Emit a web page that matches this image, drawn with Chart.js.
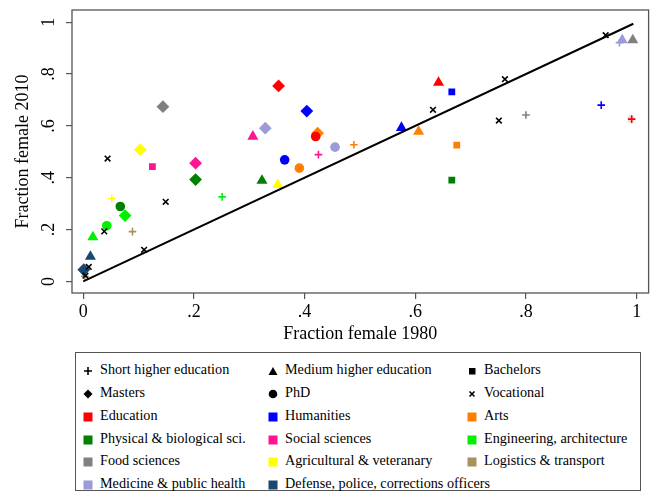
<!DOCTYPE html>
<html><head><meta charset="utf-8">
<script src="https://cdn.jsdelivr.net/npm/chart.js@4.4.1/dist/chart.umd.min.js"></script>
<style>
html,body{margin:0;padding:0;background:#fff;}
#wrap{position:relative;width:655px;height:491px;overflow:hidden;background:#fff;}
#c{position:absolute;left:0;top:0;}
#lgbox{position:absolute;left:75px;top:352px;width:566px;height:139px;border:1px solid #555;box-sizing:border-box;}
.lt{position:absolute;height:16px;line-height:16px;white-space:nowrap;font-family:'Liberation Serif','Times New Roman',serif;font-size:14.2px;color:#000;}
.ls{position:absolute;}
</style></head><body>
<div id="wrap"><canvas id="c" width="655" height="350"></canvas><div id="lgbox"></div></div>
<script>
// ---------- data ----------
const fieldNames  = ['Education','Humanities','Arts','Physical & biological sci.','Social sciences','Engineering, architecture','Food sciences','Agricultural & veteranary','Logistics & transport','Medicine & public health','Defense, police, corrections officers'];
const fieldColors = ['#ff0000','#0000ff','#ff8000','#008000','#ff1493','#00f000','#808080','#ffff00','#a8925a','#9c9ad8','#1a476f'];
const degreeNames = ['Short higher education','Medium higher education','Bachelors','Masters','PhD','Vocational'];
const degreeKeys  = ['Short','Medium','Bachelors','Masters','PhD','Vocational'];

const eduDeg  = ['Masters','PhD','Medium','Short'];
const edu1980 = [0.353,0.420,0.642,0.991];
const edu2010 = [0.754,0.559,0.767,0.626];

const humDeg  = ['Masters','PhD','Medium','Bachelors','Short'];
const hum1980 = [0.404,0.364,0.575,0.666,0.936];
const hum2010 = [0.657,0.469,0.593,0.731,0.680];

const artDeg  = ['Masters','PhD','Short','Medium','Bachelors'];
const art1980 = [0.4235,0.3905,0.489,0.606,0.675];
const art2010 = [0.572,0.437,0.527,0.578,0.526];

const phyDeg  = ['Masters','PhD','Medium','Bachelors'];
const phy1980 = [0.203,0.067,0.323,0.666];
const phy2010 = [0.393,0.289,0.389,0.391];

const socDeg  = ['Masters','Bachelors','Medium','Short'];
const soc1980 = [0.203,0.125,0.3065,0.425];
const soc2010 = [0.456,0.443,0.559,0.489];

const engDeg  = ['Short','Masters','PhD','Medium'];
const eng1980 = [0.251,0.0756,0.0426,0.0174];
const eng2010 = [0.326,0.254,0.215,0.171];

const fooDeg  = ['Bachelors','Masters','Short','Medium'];
const foo1980 = [0.990,0.144,0.800,0.993];
const foo2010 = [0.626,0.674,0.642,0.931];
const fooFaint = [true,false,false,false];

const agrDeg  = ['Masters','Medium','Short'];
const agr1980 = [0.103,0.3515,0.0516];
const agr2010 = [0.508,0.373,0.320];

const logDeg  = ['Short','Short'];
const log1980 = [0.089,0.003];
const log2010 = [0.192,0.020];

const medDeg  = ['Masters','PhD','Short','Medium'];
const med1980 = [0.329,0.455,0.969,0.974];
const med2010 = [0.591,0.518,0.921,0.931];

const defDeg  = ['Masters','Medium'];
const def1980 = [0.001,0.013];
const def2010 = [0.045,0.096];

const voc1980 = [0.044,0.149,0.038,0.110,0.010,0.004,0.632,0.762,0.944,0.751];
const voc2010 = [0.474,0.307,0.193,0.122,0.056,0.022,0.662,0.780,0.950,0.6205];

const line1980 = [0, 0.994];
const line2010 = [0, 0.994];

const xTickValues = [0,0.2,0.4,0.6,0.8,1];
const xTickLabels = ['0','.2','.4','.6','.8','1'];
const yTickValues = [0,0.2,0.4,0.6,0.8,1];
const yTickLabels = ['0','.2','.4','.6','.8','1'];

// ---------- styles ----------
const FONT = "'Liberation Serif','Times New Roman',serif";
const STYLE = {
  Short:     {style:'cross',    r:3.8, bw:1.6},
  Medium:    {style:'triangle', r:6.4, bw:0},
  Bachelors: {style:'rect',     r:4.8, bw:0},
  Masters:   {style:'rectRot',  r:6.4, bw:0},
  PhD:       {style:'circle',   r:4.8, bw:0},
  Vocational:{style:'crossRot', r:4.0, bw:1.6}
};

function fieldDataset(name, deg, xs, ys, faint) {
  const base = fieldColors[fieldNames.indexOf(name)];
  const col = deg.map((d,i) => (faint && faint[i]) ? 'rgba(200,200,200,0.55)' : base);
  return {
    type:'scatter', label:name,
    data: xs.map((v,i)=>({x:v, y:ys[i]})),
    pointStyle: deg.map(d=>STYLE[d].style),
    pointRadius: deg.map(d=>STYLE[d].r),
    pointHoverRadius: deg.map(d=>STYLE[d].r),
    pointBackgroundColor: col,
    pointBorderColor: col,
    pointBorderWidth: deg.map(d=>STYLE[d].bw),
    pointHoverBorderWidth: deg.map(d=>STYLE[d].bw)
  };
}

// bottom -> top drawing order
const drawOrder = [
  fieldDataset('Arts', artDeg, art1980, art2010),
  fieldDataset('Medicine & public health', medDeg, med1980, med2010),
  fieldDataset('Food sciences', fooDeg, foo1980, foo2010, fooFaint),
  fieldDataset('Education', eduDeg, edu1980, edu2010),
  fieldDataset('Humanities', humDeg, hum1980, hum2010),
  fieldDataset('Physical & biological sci.', phyDeg, phy1980, phy2010),
  fieldDataset('Engineering, architecture', engDeg, eng1980, eng2010),
  fieldDataset('Social sciences', socDeg, soc1980, soc2010),
  fieldDataset('Agricultural & veteranary', agrDeg, agr1980, agr2010),
  fieldDataset('Logistics & transport', logDeg, log1980, log2010),
  fieldDataset('Defense, police, corrections officers', defDeg, def1980, def2010),
  {
    type:'scatter', label:'Vocational',
    data: voc1980.map((v,i)=>({x:v,y:voc2010[i]})),
    pointStyle:'crossRot', pointRadius:STYLE.Vocational.r, pointHoverRadius:STYLE.Vocational.r,
    pointBorderColor:'#000', pointBackgroundColor:'#000', pointBorderWidth:STYLE.Vocational.bw
  },
  {
    type:'line', label:'45 degree line',
    data: line1980.map((v,i)=>({x:v,y:line2010[i]})),
    borderColor:'#000', borderWidth:2, pointRadius:0, pointHoverRadius:0, fill:false, tension:0
  }
];
drawOrder.forEach((d,i)=>{ d.order = drawOrder.length - i; });

const framePlugin = {
  id:'frame',
  afterDraw(chart){
    const a = chart.chartArea, ctx = chart.ctx;
    ctx.save();
    ctx.strokeStyle = '#555'; ctx.lineWidth = 1.3;
    ctx.strokeRect(a.left, a.top, a.right - a.left, a.bottom - a.top);
    ctx.restore();
  }
};

new Chart(document.getElementById('c'), {
  data: { datasets: drawOrder },
  options: {
    responsive:false, animation:false,
    layout:{ padding:{ top:0, right:4, left:0, bottom:0 } },
    plugins:{ legend:{display:false}, tooltip:{enabled:false} },
    scales:{
      x:{
        type:'linear', position:'bottom', min:-0.0203, max:1.0216,
        afterBuildTicks: s => { s.ticks = xTickValues.map(v=>({value:v})); },
        ticks:{ callback:(v,i)=>xTickLabels[i], minRotation:0, maxRotation:0, autoSkip:false, padding:2,
                font:{family:FONT, size:18}, color:'#000' },
        grid:{ drawOnChartArea:false, drawTicks:true, tickLength:6, color:'#555', lineWidth:1.2 },
        border:{ display:false },
        title:{ display:true, text:'Fraction female 1980', color:'#000', font:{family:FONT, size:18}, padding:{top:0, bottom:5} },
        afterFit: s => { s.height = 57; }
      },
      y:{
        type:'linear', position:'left', min:-0.0447, max:1.047,
        afterBuildTicks: s => { s.ticks = yTickValues.map(v=>({value:v})); },
        ticks:{ callback:(v,i)=>yTickLabels[i], minRotation:90, maxRotation:90, crossAlign:'center', autoSkip:false, padding:10,
                font:{family:FONT, size:18}, color:'#000' },
        grid:{ drawOnChartArea:false, drawTicks:true, tickLength:6, color:'#555', lineWidth:1.2 },
        border:{ display:false },
        title:{ display:true, text:'Fraction female 2010', color:'#000', font:{family:FONT, size:18}, padding:{top:12, bottom:0} },
        afterFit: s => { s.width = 72; s.paddingTop = 10; s.paddingBottom = 0; }
      }
    }
  },
  plugins:[framePlugin]
});

// ---------- legend (HTML, real text) ----------
const SYM = {
  Short:'<svg width="10" height="10"><path d="M1 5H9M5 1V9" stroke="#000" stroke-width="1.6"/></svg>',
  Medium:'<svg width="10" height="10"><polygon points="5,1 9.5,9 0.5,9" fill="#000"/></svg>',
  Bachelors:'<svg width="10" height="10"><rect x="2" y="2" width="6.5" height="6.5" fill="#000"/></svg>',
  Masters:'<svg width="10" height="10"><polygon points="5,0.5 9.5,5 5,9.5 0.5,5" fill="#000"/></svg>',
  PhD:'<svg width="10" height="10"><circle cx="5" cy="5" r="4.3" fill="#000"/></svg>',
  Vocational:'<svg width="10" height="10"><path d="M2.5 2.5L7.5 7.5M7.5 2.5L2.5 7.5" stroke="#000" stroke-width="1.6"/></svg>'
};
const items = [];
degreeNames.forEach((n,i)=>items.push({text:n, sym:SYM[degreeKeys[i]]}));
fieldNames.forEach((n,i)=>items.push({text:n, sym:'<svg width="10" height="10"><rect x="0.5" y="0.5" width="9" height="9" fill="'+fieldColors[i]+'"/></svg>'}));
const colSym = [88, 273, 472];
const colText = [100, 285, 484];
const rowY = [369, 392, 415, 438, 460, 483];
const wrap = document.getElementById('wrap');
items.forEach((it,k)=>{
  const r = Math.floor(k/3), c = k%3;
  const s = document.createElement('div');
  s.className='ls'; s.style.left=(colSym[c]-5)+'px'; s.style.top=(rowY[r]-7)+'px'; s.innerHTML=it.sym;
  wrap.appendChild(s);
  const t = document.createElement('div');
  t.className='lt'; t.style.left=colText[c]+'px'; t.style.top=(rowY[r]-8)+'px'; t.textContent=it.text;
  wrap.appendChild(t);
});
</script>
</body></html>
